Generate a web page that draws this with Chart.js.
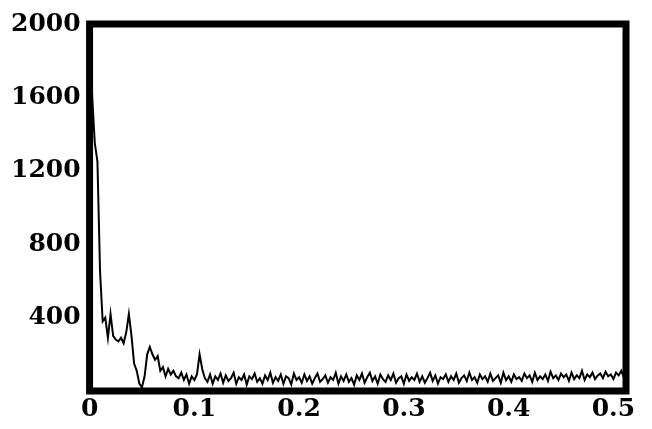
<!DOCTYPE html>
<html>
<head>
<meta charset="utf-8">
<script src="https://cdn.jsdelivr.net/npm/chart.js@4/dist/chart.umd.min.js"></script>
<style>
  html, body { margin: 0; padding: 0; background: #fff; }
  #wrap { width: 652px; height: 429px; }
</style>
</head>
<body>
<div id="wrap"><canvas id="spectrum" width="652" height="429"></canvas></div>
<script>
// Frecuencia: de 0 a 0.512, paso constante
const FREQ_STEP = 0.0025;
const xTicks = [0, 0.1, 0.2, 0.3, 0.4, 0.5];
const yTicks = [400, 800, 1200, 1600, 2000];

// Amplitud (una muestra cada FREQ_STEP)
const amplitude = [
  2000, 1600, 1350, 1250, 650, 380, 400, 290, 420, 300,
  280, 270, 290, 260, 320, 420, 300, 150, 110, 40,
  20, 80, 200, 240, 200, 170, 190, 110, 130, 80,
  120, 90, 110, 80, 70, 100, 60, 90, 40, 80,
  60, 90, 200, 120, 70,
  50, 90, 40, 80, 60, 95, 45, 85, 55, 70, 100, 40, 75, 60, 90, 35, 80, 65, 95, 50,
  70, 40, 85, 60, 100, 45, 75, 55, 90, 40, 80, 70, 35, 95, 60, 75, 45, 90, 55, 80,
  40, 70, 95, 50, 65, 85, 45, 75, 60, 100, 40, 80, 55, 90, 50, 70, 35, 85, 60, 95,
  45, 75, 100, 55, 80, 40, 90, 65, 50, 85, 60, 95, 45, 70, 80, 40, 90, 55, 75, 60,
  95, 50, 80, 45, 70, 100, 55, 85, 40, 75, 65, 90, 50, 80, 60, 95, 45, 70, 85, 55,
  100, 60, 75, 45, 90, 65, 80, 50, 95, 55, 70, 85, 45, 100, 60, 80, 50, 90, 65, 75,
  55, 95, 70, 85, 50, 100, 60, 80, 65, 90, 55, 105, 70, 85, 60, 95, 75, 90, 55, 100,
  65, 85, 70, 110, 60, 90, 75, 100, 65, 85, 95, 70, 105, 80, 90, 65, 100, 85, 110, 75, 95
];

const points = amplitude.map((v, i) => ({ x: i * FREQ_STEP, y: v }));

// Marco grueso alrededor del área del gráfico
const thickFrame = {
  id: 'thickFrame',
  afterDatasetsDraw(chart) {
    const { ctx, chartArea: a } = chart;
    ctx.save();
    ctx.strokeStyle = '#000';
    ctx.lineWidth = 7;
    ctx.strokeRect(a.left, a.top, a.right - a.left, a.bottom - a.top);
    ctx.restore();
  }
};

const labelFont = { family: '"DejaVu Serif", serif', size: 25, weight: 'bold' };

new Chart(document.getElementById('spectrum').getContext('2d'), {
  type: 'line',
  data: {
    datasets: [{
      data: points,
      borderColor: '#000',
      borderWidth: 2,
      pointRadius: 0,
      tension: 0,
      fill: false
    }]
  },
  options: {
    responsive: false,
    animation: false,
    layout: { padding: { left: 2, right: 26, top: 8, bottom: 2 } },
    plugins: { legend: { display: false }, tooltip: { enabled: false } },
    scales: {
      x: {
        type: 'linear',
        min: 0,
        max: 0.512,
        grid: { display: false, drawTicks: false, tickLength: 0 },
        border: { display: false },
        afterBuildTicks: (scale) => { scale.ticks = xTicks.map(v => ({ value: v })); },
        ticks: {
          color: '#000',
          font: labelFont,
          padding: 3,
          maxRotation: 0,
          callback: (v) => v === 0 ? '0' : v.toFixed(1)
        }
      },
      y: {
        min: 0,
        max: 2000,
        grid: { display: false, drawTicks: false, tickLength: 0 },
        border: { display: false },
        afterBuildTicks: (scale) => { scale.ticks = yTicks.map(v => ({ value: v })); },
        ticks: {
          color: '#000',
          font: labelFont,
          padding: 9,
          callback: (v) => String(v)
        }
      }
    }
  },
  plugins: [thickFrame]
});
</script>
</body>
</html>
